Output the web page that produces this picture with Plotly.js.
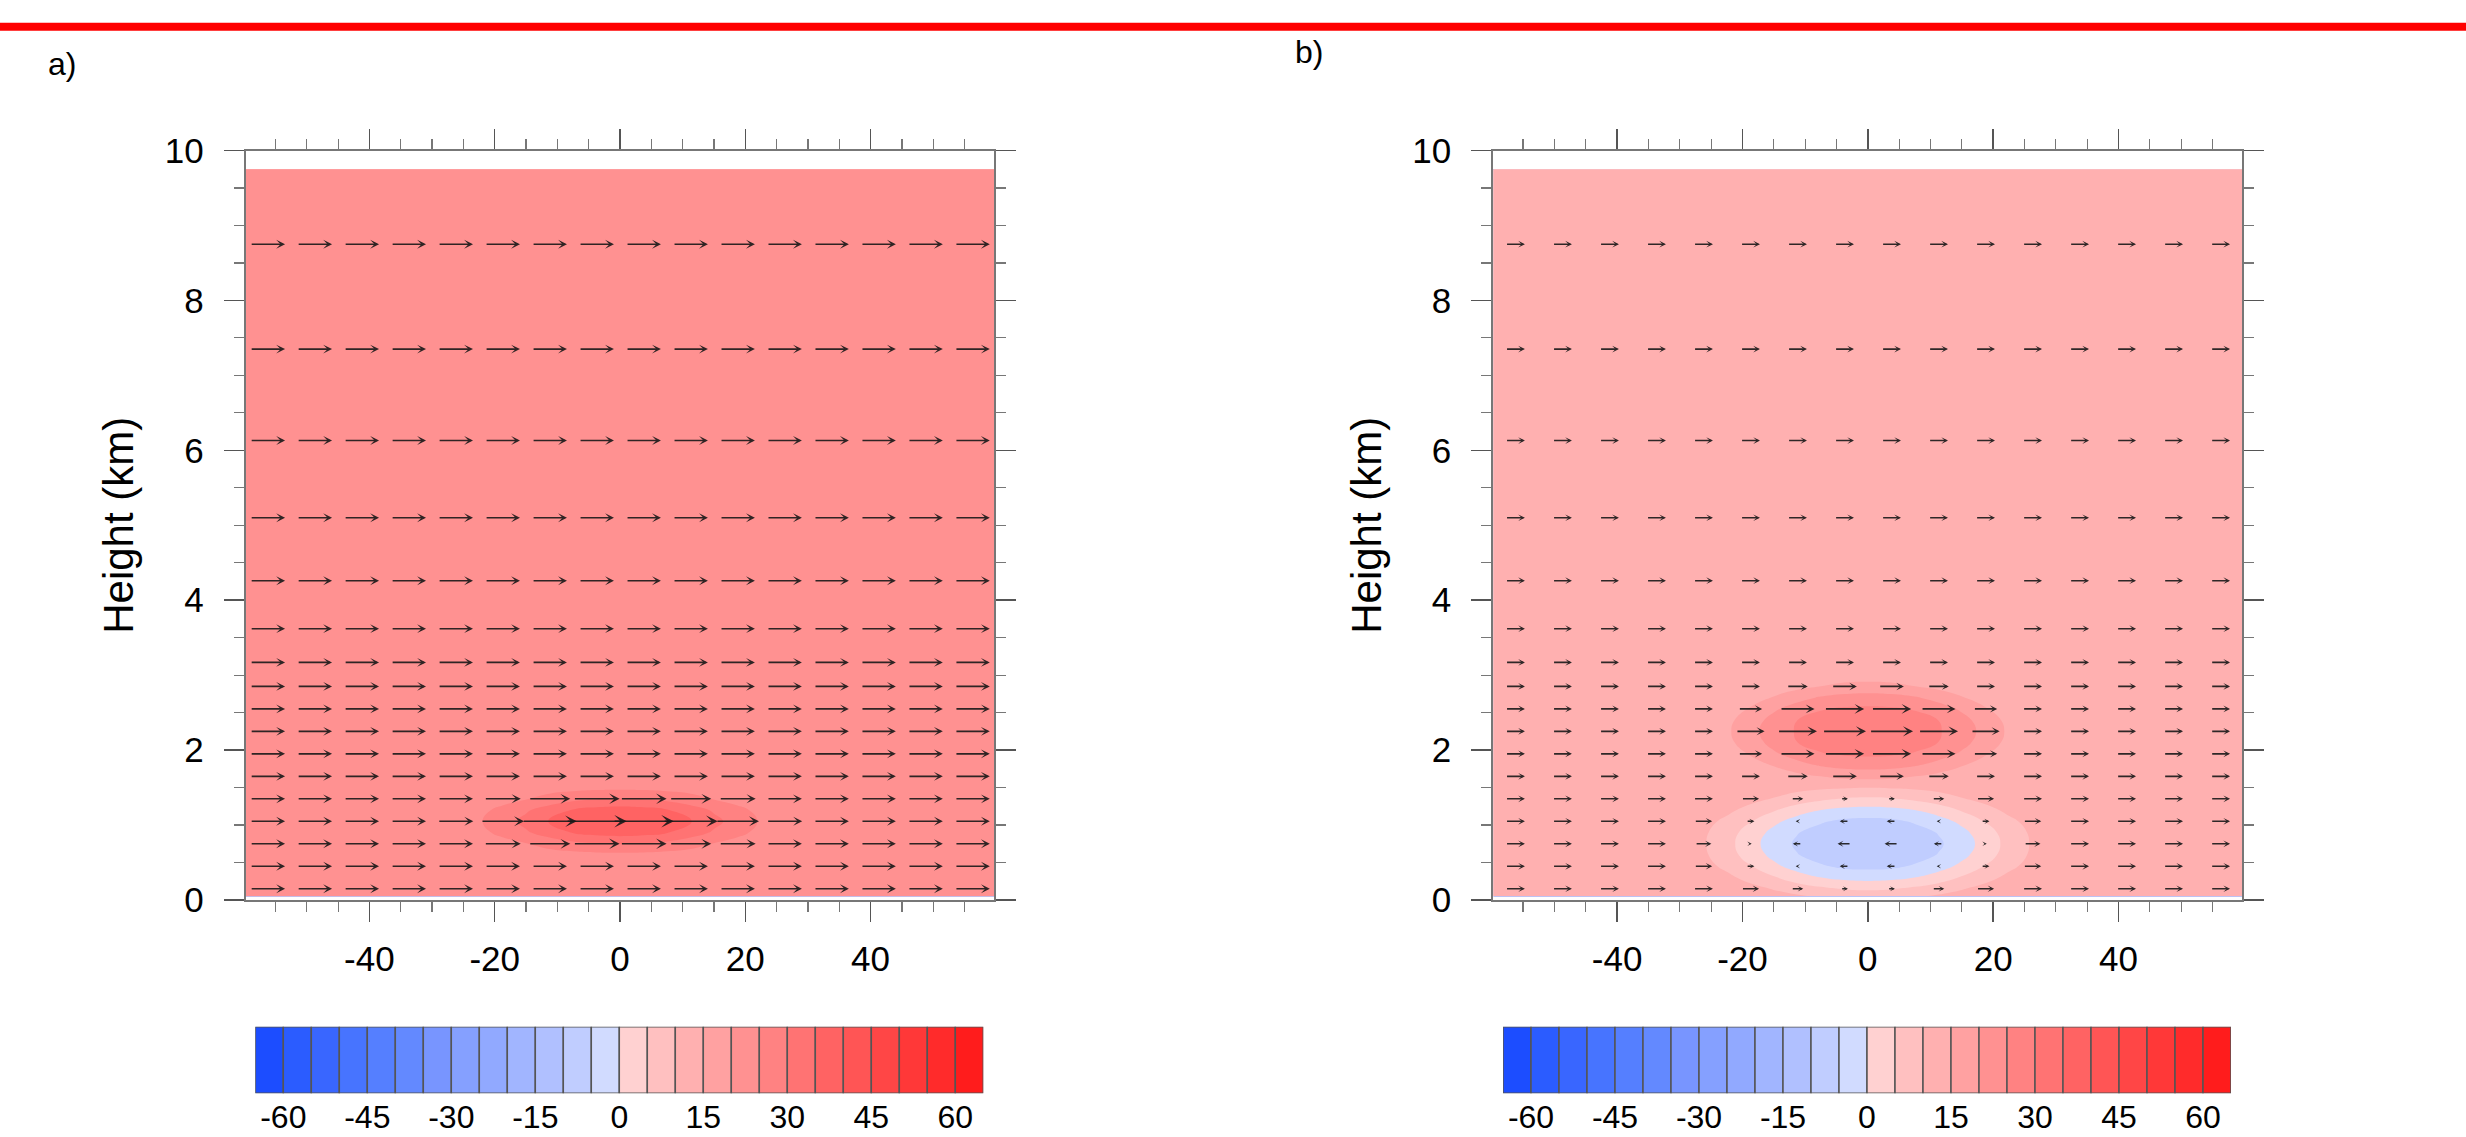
<!DOCTYPE html>
<html>
<head>
<meta charset="utf-8">
<script src="https://cdn.plot.ly/plotly-3.0.1.min.js"></script>
<style>
html,body{margin:0;padding:0;background:#fff;}
#chart{width:2466px;height:1137px;}
</style>
</head>
<body>
<div id="chart"></div>
<script>
// ---------------- DATA ----------------
// horizontal grid positions (km)
const xGrid = [-59.75, -30, -26.25, -22.5, -18.75, -15, -11.25, -7.5, -3.75, 0, 3.75, 7.5, 11.25, 15, 18.75, 22.5, 26.25, 30, 59.75];

// panel a) : heights (km) and u wind (m/s)
const zGridA = [0.05, 0.15, 0.3, 0.45, 0.6, 0.75, 0.9, 1.05, 1.2, 1.35, 1.5, 1.65, 1.8, 9.75];
const uA = [
  [22.5,22.5,22.5,22.5,22.5,22.5,22.5,22.5,22.5,22.5,22.5,22.5,22.5,22.5,22.5,22.5,22.5,22.5,22.5],
  [22.5,22.5,22.5,22.5,22.5,22.5,22.5,22.5,22.5,22.5,22.5,22.5,22.5,22.5,22.5,22.5,22.5,22.5,22.5],
  [22.5,22.5,22.5,22.5,22.5,22.5,22.5,22.5,22.5,22.5,22.5,22.5,22.5,22.5,22.5,22.5,22.5,22.5,22.5],
  [22.5,22.5,22.5,22.5,22.5,22.5,22.5,22.5,22.5,22.5,22.5,22.5,22.5,22.5,22.5,22.5,22.5,22.5,22.5],
  [22.5,22.5,22.5,22.5,22.5,22.69,22.9,23.22,23.62,23.75,23.62,23.22,22.9,22.69,22.5,22.5,22.5,22.5,22.5],
  [22.5,22.5,22.5,22.78,23.5,24.75,26.8,28.6,29.8,30.2,29.8,28.6,26.8,24.75,23.5,22.78,22.5,22.5,22.5],
  [22.5,22.5,22.8,23.88,26.06,29.33,32.45,35.25,36.7,37.25,36.7,35.25,32.45,29.33,26.06,23.88,22.8,22.5,22.5],
  [22.5,22.5,22.9,24.5,27.8,31.4,35.2,37.7,39.1,39.6,39.1,37.7,35.2,31.4,27.8,24.5,22.9,22.5,22.5],
  [22.5,22.5,22.8,23.88,26.06,29.33,32.45,35.25,36.7,37.25,36.7,35.25,32.45,29.33,26.06,23.88,22.8,22.5,22.5],
  [22.5,22.5,22.5,22.78,23.5,24.75,26.8,28.6,29.8,30.2,29.8,28.6,26.8,24.75,23.5,22.78,22.5,22.5,22.5],
  [22.5,22.5,22.5,22.5,22.5,22.69,22.9,23.22,23.62,23.75,23.62,23.22,22.9,22.69,22.5,22.5,22.5,22.5,22.5],
  [22.5,22.5,22.5,22.5,22.5,22.5,22.5,22.5,22.5,22.5,22.5,22.5,22.5,22.5,22.5,22.5,22.5,22.5,22.5],
  [22.5,22.5,22.5,22.5,22.5,22.5,22.5,22.5,22.5,22.5,22.5,22.5,22.5,22.5,22.5,22.5,22.5,22.5,22.5],
  [22.5,22.5,22.5,22.5,22.5,22.5,22.5,22.5,22.5,22.5,22.5,22.5,22.5,22.5,22.5,22.5,22.5,22.5,22.5]
];

// panel b) : heights (km) and u wind (m/s)
const zGridB = [0.05, 0.15, 0.3, 0.45, 0.6, 0.75, 0.9, 1.05, 1.2, 1.35, 1.5, 1.65, 1.8, 1.95, 2.1, 2.25, 2.4, 2.55, 2.7, 2.85, 3.0, 3.17, 9.75];
const uB = [
  [12.5,12.5,12.5,12.5,12.5,11.59,10.63,9.4,8.56,8.27,8.56,9.4,10.63,11.59,12.5,12.5,12.5,12.5,12.5],
  [12.5,12.5,12.5,12.5,11.35,9.72,7.74,6.0,4.67,4.22,4.67,6.0,7.74,9.72,11.35,12.5,12.5,12.5,12.5],
  [12.5,12.5,12.5,11.05,8.57,5.5,2.24,0.04,-1.36,-1.85,-1.36,0.04,2.24,5.5,8.57,11.05,12.5,12.5,12.5],
  [12.5,12.5,11.53,9.0,5.33,1.18,-2.04,-4.42,-5.97,-6.32,-5.97,-4.42,-2.04,1.18,5.33,9.0,11.53,12.5,12.5],
  [12.5,12.5,10.77,7.37,2.73,-1.36,-4.76,-6.95,-8.07,-8.37,-8.07,-6.95,-4.76,-1.36,2.73,7.37,10.77,12.5,12.5],
  [12.5,12.5,10.5,6.8,1.8,-2.3,-5.8,-7.8,-8.7,-9.0,-8.7,-7.8,-5.8,-2.3,1.8,6.8,10.5,12.5,12.5],
  [12.5,12.5,10.77,7.37,2.73,-1.36,-4.76,-6.95,-8.07,-8.37,-8.07,-6.95,-4.76,-1.36,2.73,7.37,10.77,12.5,12.5],
  [12.5,12.5,11.53,9.0,5.33,1.18,-2.04,-4.42,-5.97,-6.32,-5.97,-4.42,-2.04,1.18,5.33,9.0,11.53,12.5,12.5],
  [12.5,12.5,12.5,11.05,8.57,5.5,2.24,0.04,-1.36,-1.85,-1.36,0.04,2.24,5.5,8.57,11.05,12.5,12.5,12.5],
  [12.5,12.5,12.5,12.5,11.35,9.72,7.74,6.0,4.67,4.22,4.67,6.0,7.74,9.72,11.35,12.5,12.5,12.5,12.5],
  [12.5,12.5,12.5,12.5,12.5,12.38,11.47,10.78,10.44,10.1,10.44,10.78,11.47,12.38,12.5,12.5,12.5,12.5,12.5],
  [12.5,12.5,12.5,12.5,12.5,12.67,13.55,15.01,16.23,16.65,16.23,15.01,13.55,12.67,12.5,12.5,12.5,12.5,12.5],
  [12.5,12.5,12.5,12.5,12.92,15.32,18.29,20.54,21.79,22.23,21.79,20.54,18.29,15.32,12.92,12.5,12.5,12.5,12.5],
  [12.5,12.5,12.5,12.79,15.36,19.26,22.27,24.72,25.61,25.88,25.61,24.72,22.27,19.26,15.36,12.79,12.5,12.5,12.5],
  [12.5,12.5,12.5,13.65,17.66,21.61,24.98,26.32,27.44,27.84,27.44,26.32,24.98,21.61,17.66,13.65,12.5,12.5,12.5],
  [12.5,12.5,12.5,14.17,18.47,22.41,25.43,26.95,28.01,28.5,28.01,26.95,25.43,22.41,18.47,14.17,12.5,12.5,12.5],
  [12.5,12.5,12.5,13.65,17.66,21.61,24.98,26.32,27.44,27.84,27.44,26.32,24.98,21.61,17.66,13.65,12.5,12.5,12.5],
  [12.5,12.5,12.5,12.79,15.36,19.26,22.27,24.72,25.61,25.88,25.61,24.72,22.27,19.26,15.36,12.79,12.5,12.5,12.5],
  [12.5,12.5,12.5,12.5,12.92,15.32,18.29,20.54,21.79,22.23,21.79,20.54,18.29,15.32,12.92,12.5,12.5,12.5,12.5],
  [12.5,12.5,12.5,12.5,12.5,12.67,13.55,15.01,16.23,16.65,16.23,15.01,13.55,12.67,12.5,12.5,12.5,12.5,12.5],
  [12.5,12.5,12.5,12.5,12.5,12.5,12.5,12.5,12.58,12.64,12.58,12.5,12.5,12.5,12.5,12.5,12.5,12.5,12.5],
  [12.5,12.5,12.5,12.5,12.5,12.5,12.5,12.5,12.5,12.5,12.5,12.5,12.5,12.5,12.5,12.5,12.5,12.5,12.5],
  [12.5,12.5,12.5,12.5,12.5,12.5,12.5,12.5,12.5,12.5,12.5,12.5,12.5,12.5,12.5,12.5,12.5,12.5,12.5]
];

// positions where wind vectors are drawn
const arrowX = [-56.25, -48.75, -41.25, -33.75, -26.25, -18.75, -11.25, -3.75, 3.75, 11.25, 18.75, 26.25, 33.75, 41.25, 48.75, 56.25];
const arrowZ = [0.15, 0.45, 0.75, 1.05, 1.35, 1.65, 1.95, 2.25, 2.55, 2.85, 3.17, 3.62, 4.26, 5.10, 6.13, 7.35, 8.75];

// contour levels and the 26 label-bar colours
const levels = [-60,-55,-50,-45,-40,-35,-30,-25,-20,-15,-10,-5,0,5,10,15,20,25,30,35,40,45,50,55,60];
const levelColors = ['#1c4dff','#2b5cff','#3966ff','#4774ff','#557fff','#6389ff','#7895ff','#85a0ff','#91a9ff','#a1b5ff','#b0c0ff','#c0cdff','#d1dbff',
                     '#ffd1d1','#ffc0c0','#ffb0b0','#ffa1a1','#ff9191','#ff8282','#ff7373','#ff6363','#ff5555','#ff4646','#ff3838','#ff2b2b','#ff1c1c'];
const cbTickVals = [-60,-45,-30,-15,0,15,30,45,60];
const cbTickText = ['-60','-45','-30','-15','0','15','30','45','60'];
const xTickVals = [-40,-20,0,20,40];
const xTickText = ['-40','-20','0','20','40'];
const panelLabels = ['a)','b)'];
const yTitle = 'Height (km)';

// ---------------- LAYOUT GEOMETRY ----------------
const W = 2466, H = 1137;
const FONT = 'Liberation Sans, Arial, Helvetica, sans-serif';
const xRange = [-59.75, 59.75];
const plotTop = 150.5, plotBottom = 900;
const panelA = [245.7, 994.3], panelB = [1493.3, 2242.3];
const cbA = [255.3, 983.3], cbB = [1503, 2231];
const cbTop = 1026.7, cbBottom = 1093.3;

const yDom = [1 - plotBottom / H, 1 - plotTop / H];
const cbYDom = [1 - cbBottom / H, 1 - cbTop / H];

// ---------------- helpers ----------------
function interp(xs, zs, U, x, z) {
  let i = 0; while (i < xs.length - 2 && x > xs[i + 1]) i++;
  let j = 0; while (j < zs.length - 2 && z > zs[j + 1]) j++;
  const tx = Math.min(1, Math.max(0, (x - xs[i]) / (xs[i + 1] - xs[i])));
  const tz = Math.min(1, Math.max(0, (z - zs[j]) / (zs[j + 1] - zs[j])));
  return (1 - tz) * ((1 - tx) * U[j][i] + tx * U[j][i + 1]) + tz * ((1 - tx) * U[j + 1][i] + tx * U[j + 1][i + 1]);
}

const PX_PER_MS = 1.55;      // vector length (px) per m/s
const AW = 1.6;
function vectorAnnotations(xs, zs, U, xa, ya, domPx) {
  const pxPerUnit = (domPx[1] - domPx[0]) / (xRange[1] - xRange[0]);
  const out = [];
  arrowZ.forEach(z => arrowX.forEach(x => {
    const u = interp(xs, zs, U, x, z);
    if (Math.abs(u) < 1.2) return;
    const len = Math.abs(u) * PX_PER_MS;
    const half = u * PX_PER_MS / pxPerUnit / 2;
    out.push({
      xref: xa, yref: ya, axref: xa, ayref: ya,
      x: x + half, y: z, ax: x - half, ay: z,
      text: '', showarrow: true, arrowhead: 3,
      arrowwidth: AW,
      arrowsize: Math.max(0.3, (4 + 0.14 * len) / (6 * AW)),
      arrowcolor: 'rgba(25,25,25,0.9)',
      standoff: 0, startstandoff: 0
    });
  }));
  return out;
}

function mainXAxis(dom, anchor) {
  return {
    domain: [dom[0] / W, dom[1] / W], range: xRange, anchor: anchor,
    tickmode: 'array', tickvals: xTickVals, ticktext: xTickText,
    ticks: 'outside', ticklen: 20, tickwidth: 1.5, tickcolor: '#555',
    minor: {tickmode: 'linear', tick0: 0, dtick: 5, ticks: 'outside', ticklen: 10, tickwidth: 1.2, tickcolor: '#777', showgrid: false},
    showline: true, linecolor: '#777', linewidth: 2, mirror: 'allticks',
    showgrid: false, zeroline: false, fixedrange: true,
    ticklabelstandoff: 7,
    tickfont: {family: FONT, size: 35, color: '#000'}
  };
}
function mainYAxis(anchor) {
  return {
    domain: yDom, range: [0, 10], anchor: anchor,
    tickmode: 'linear', tick0: 0, dtick: 2,
    ticks: 'outside', ticklen: 20, tickwidth: 1.5, tickcolor: '#555',
    minor: {tickmode: 'linear', tick0: 0, dtick: 0.5, ticks: 'outside', ticklen: 10, tickwidth: 1.2, tickcolor: '#777', showgrid: false},
    showline: true, linecolor: '#777', linewidth: 2, mirror: 'allticks',
    showgrid: false, zeroline: false, fixedrange: true,
    ticklabelstandoff: 13,
    tickfont: {family: FONT, size: 35, color: '#000'},
    title: {text: yTitle, font: {family: FONT, size: 42, color: '#000'}, standoff: 18}
  };
}
function cbXAxis(dom, anchor) {
  return {
    domain: [dom[0] / W, dom[1] / W], range: [levels[0] - 5, levels[levels.length - 1] + 5], anchor: anchor,
    tickmode: 'array', tickvals: cbTickVals, ticktext: cbTickText, ticks: '', showline: false,
    showgrid: false, zeroline: false, fixedrange: true,
    ticklabelstandoff: 2,
    tickfont: {family: FONT, size: 32, color: '#000'}
  };
}
function cbYAxis(anchor) {
  return {domain: cbYDom, range: [0, 1], anchor: anchor, visible: false, fixedrange: true};
}

// discrete colour scale: band above level L is evaluated at L + size/2
const colorscale = levelColors.map((c, k) => [k / (levelColors.length - 1), c]);

function contourTrace(zs, U, xa, ya) {
  return {
    type: 'contour', x: xGrid, y: zs, z: U, xaxis: xa, yaxis: ya,
    autocontour: false,
    contours: {start: levels[0], end: levels[levels.length - 1], size: levels[1] - levels[0], coloring: 'fill', showlines: false},
    colorscale: colorscale, showscale: false,
    line: {width: 0, smoothing: 1.3},
    hoverinfo: 'skip'
  };
}

const boxEdges = [levels[0] - 5].concat(levels, [levels[levels.length - 1] + 5]);
const boxCenters = boxEdges.slice(0, -1).map((e, i) => (e + boxEdges[i + 1]) / 2);
function labelBar(xa, ya) {
  return {
    type: 'bar', x: boxCenters, y: boxCenters.map(() => 1), width: 5,
    marker: {color: levelColors, line: {color: '#555', width: 1.5}},
    xaxis: xa, yaxis: ya, hoverinfo: 'skip', showlegend: false
  };
}

const data = [
  contourTrace(zGridA, uA, 'x', 'y'),
  contourTrace(zGridB, uB, 'x2', 'y2'),
  labelBar('x3', 'y3'),
  labelBar('x4', 'y4')
];

const annotations = []
  .concat(vectorAnnotations(xGrid, zGridA, uA, 'x', 'y', panelA))
  .concat(vectorAnnotations(xGrid, zGridB, uB, 'x2', 'y2', panelB))
  .concat([
    {xref: 'paper', yref: 'paper', x: 62 / W, y: 1 - 64 / H, text: panelLabels[0], showarrow: false,
     xanchor: 'center', yanchor: 'middle', font: {family: FONT, size: 32, color: '#000'}},
    {xref: 'paper', yref: 'paper', x: 1309 / W, y: 1 - 52 / H, text: panelLabels[1], showarrow: false,
     xanchor: 'center', yanchor: 'middle', font: {family: FONT, size: 32, color: '#000'}}
  ]);

const layout = {
  width: W, height: H,
  margin: {l: 0, r: 0, t: 0, b: 0, pad: 0},
  paper_bgcolor: '#fff', plot_bgcolor: 'rgba(0,0,0,0)',
  showlegend: false, hovermode: false,
  barmode: 'overlay', bargap: 0,
  xaxis: mainXAxis(panelA, 'y'),
  yaxis: mainYAxis('x'),
  xaxis2: mainXAxis(panelB, 'y2'),
  yaxis2: mainYAxis('x2'),
  xaxis3: cbXAxis(cbA, 'y3'),
  yaxis3: cbYAxis('x3'),
  xaxis4: cbXAxis(cbB, 'y4'),
  yaxis4: cbYAxis('x4'),
  shapes: [
    {type: 'line', xref: 'paper', yref: 'paper', x0: 0, x1: 1, y0: 1 - 26.7 / H, y1: 1 - 26.7 / H,
     line: {color: '#ff0000', width: 8}}
  ],
  annotations: annotations
};

Plotly.newPlot('chart', data, layout, {staticPlot: true, displayModeBar: false});
</script>
</body>
</html>
